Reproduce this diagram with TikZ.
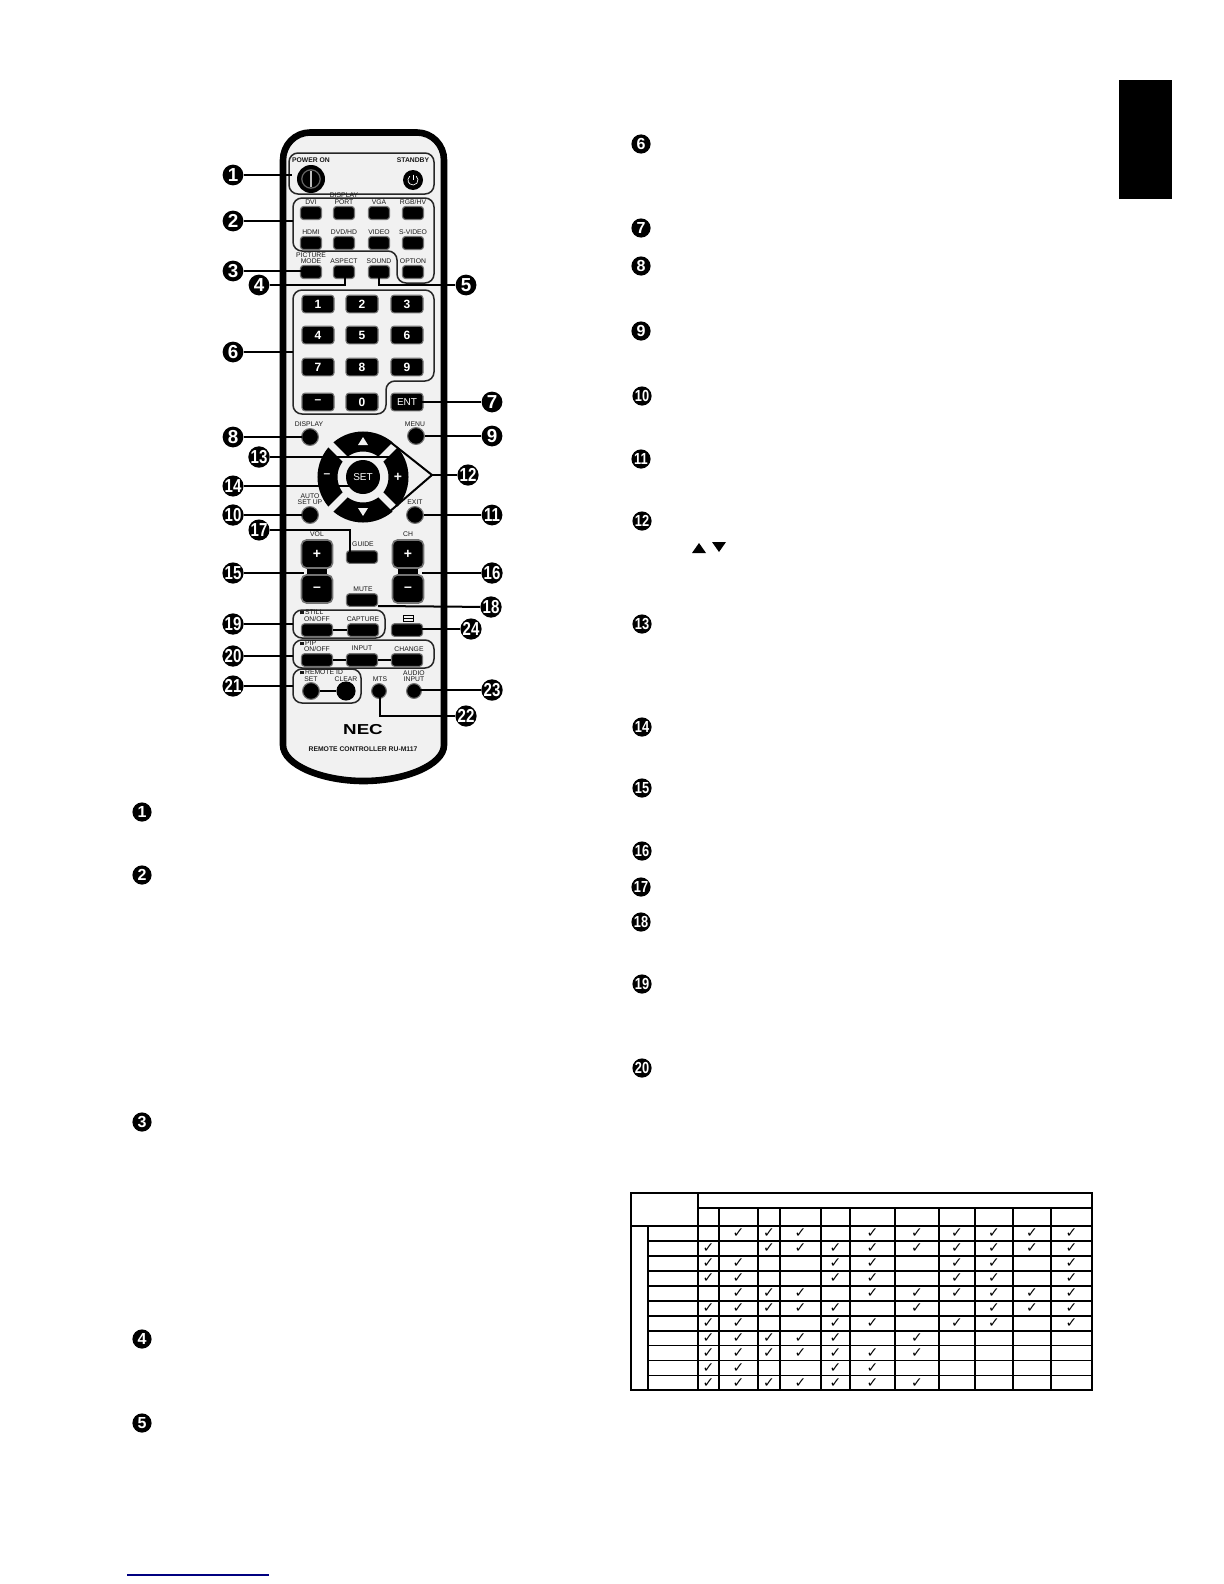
\documentclass[tikz,border=0pt]{standalone}
\usepackage{fontspec}
\setmainfont{Liberation Sans}
\newfontfamily\checkfont{DejaVu Sans}
\definecolor{bodygrey}{HTML}{F1F1F1}
\definecolor{linkblue}{HTML}{000080}
\tikzset{
  badge/.style={circle,fill=black,text=white,inner sep=0pt,minimum size=9.6pt,font=\fontsize{8}{8}\selectfont\bfseries},
  rbadge/.style={badge,minimum size=10.4pt,font=\fontsize{9.4}{9.4}\selectfont\bfseries},
  lead/.style={line width=1pt,draw=black},
  grp/.style={line width=.75pt,draw=black!85,rounded corners=4.5pt},
  wire/.style={line width=.6pt,draw=black},
  keyb/.style={rectangle,fill=black,draw=black!55,line width=.55pt,rounded corners=1.5pt,inner sep=0pt,text=white,minimum width=10.5pt,minimum height=6.5pt},
  numkey/.style={keyb,minimum width=16pt,minimum height=8.8pt,font=\fontsize{6}{6}\selectfont\bfseries},
  widekey/.style={keyb,minimum width=15.5pt,minimum height=6.3pt},
  tallkey/.style={keyb,minimum width=15.5pt,minimum height=14pt,rounded corners=2.5pt,line width=.8pt,font=\fontsize{7}{7}\selectfont\bfseries},
  rbtn/.style={circle,fill=black,draw=black!55,line width=.55pt,inner sep=0pt,minimum size=8.4pt},
  lab/.style={inner sep=0pt,text=black!90,font=\fontsize{3.4}{3.4}\selectfont},
  blab/.style={lab,font=\fontsize{3.4}{3.4}\selectfont\bfseries},
  tick/.style={inner sep=0pt,font=\fontsize{7}{7}\selectfont\checkfont},
  tbl/.style={line width=.55pt,draw=black}
}
\newcommand{\tw}[1]{\scalebox{.8}[1]{#1}}
\newcommand{\sqm}{\rule{1.8pt}{1.8pt}\,}
\begin{document}
\begin{tikzpicture}[x=.5pt,y=-.5pt]
\useasboundingbox (0,0) rectangle (1224,1584);
\fill[white] (0,0) rectangle (1224,1584);
% tab
\fill[black] (1119,80) rectangle (1172,199);
% blue rule
\draw[linkblue,line width=.6pt] (127,1575) -- (269,1575);
% remote body
\draw[line width=3.3pt,fill=bodygrey,draw=black] (283,745) -- (283,160) .. controls (283,145) and (295,132.5) .. (310,132.5) -- (417,132.5) .. controls (432,132.5) and (444,145) .. (444,160) -- (444,745) .. controls (444,765) and (405,781) .. (363.5,781) .. controls (322,781) and (283,765) .. (283,745) -- cycle;
% groups
\draw[grp] (289,153) rectangle (434,194);
\draw[grp] (293,198) -- (293,251) -- (397,251) -- (397,283) -- (434,283) -- (434,198) -- cycle;
\draw[grp] (293,290) -- (434,290) -- (434,381) -- (386,381) -- (386,414) -- (293,414) -- cycle;
\draw[grp] (293,610) rectangle (385,638);
\draw[grp] (293,640) rectangle (434,668);
\draw[grp] (293,669) rectangle (361,703);
% power
\node[blab] (lpower) at (311,160) {POWER ON};
\node[blab] (lstandby) at (413,160) {STANDBY};
\node[circle,fill=black,inner sep=0pt,minimum size=14pt] (kpower) at (311,179) {};
\draw[black!60,line width=.6pt] (kpower.center) circle[radius=4.6pt];
\draw[black!25,line width=.8pt] (311,171) -- (311,187);
\node[circle,fill=black,inner sep=0pt,minimum size=10pt] (kstandby) at (413,180) {};
\draw[white,line width=.35pt] (416.2,176.2) arc[start angle=50,end angle=-230,radius=2.5pt];
\draw[white,line width=.35pt] (413,174.5) -- (413,180);
% source keys
\node[lab] (l21a) at (344,195) {DISPLAY};
\node[lab] (l21) at (311,202) {DVI};
\node[lab] (l22) at (344,202) {PORT};
\node[lab] (l23) at (379,202) {VGA};
\node[lab] (l24) at (413,202) {RGB/HV};
\node[keyb] (k21) at (311,213) {};
\node[keyb] (k22) at (344,213) {};
\node[keyb] (k23) at (379,213) {};
\node[keyb] (k24) at (413,213) {};
\node[lab] (l31) at (311,232) {HDMI};
\node[lab] (l32) at (344,232) {DVD/HD};
\node[lab] (l33) at (379,232) {VIDEO};
\node[lab] (l34) at (413,232) {S-VIDEO};
\node[keyb] (k31) at (311,243) {};
\node[keyb] (k32) at (344,243) {};
\node[keyb] (k33) at (379,243) {};
\node[keyb] (k34) at (413,243) {};
\node[lab] (l41a) at (311,255) {PICTURE};
\node[lab] (l41) at (311,261) {MODE};
\node[lab] (l42) at (344,261) {ASPECT};
\node[lab] (l43) at (379,261) {SOUND};
\node[lab] (l44) at (413,261) {OPTION};
\node[keyb] (k41) at (311,272) {};
\node[keyb] (k42) at (344,272) {};
\node[keyb] (k43) at (379,272) {};
\node[keyb] (k44) at (413,272) {};
% numeric keys
\node[numkey] (n1) at (318,304) {1};
\node[numkey] (n2) at (362,304) {2};
\node[numkey] (n3) at (407,304) {3};
\node[numkey] (n4) at (318,335) {4};
\node[numkey] (n5) at (362,335) {5};
\node[numkey] (n6) at (407,335) {6};
\node[numkey] (n7) at (318,367) {7};
\node[numkey] (n8) at (362,367) {8};
\node[numkey] (n9) at (407,367) {9};
\node[numkey] (nm) at (318,402) {–};
\node[numkey] (n0) at (362,402) {0};
\node[numkey,font=\fontsize{5}{5}\selectfont] (nent) at (407,402) {ENT};
% round keys
\node[lab] (ldisp) at (309,424) {DISPLAY};
\node[rbtn] (kdisp) at (310,437) {};
\node[lab] (lmenu) at (415,424) {MENU};
\node[rbtn] (kmenu) at (416,436) {};
\node[lab,align=center,font=\fontsize{3.4}{3}\selectfont] (lauto) at (310,499) {AUTO\\SET UP};
\node[rbtn] (kauto) at (310,515) {};
\node[lab] (lexit) at (415,502) {EXIT};
\node[rbtn] (kexit) at (415,515) {};
% d-pad
\draw[black,line width=10pt] (363,477) circle[radius=17.75pt];
\draw[bodygrey,line width=3.4pt] (328,442) -- (398,512);
\draw[bodygrey,line width=3.4pt] (398,442) -- (328,512);
\node[circle,fill=black,text=white,inner sep=0pt,minimum size=17pt,font=\fontsize{5}{5}\selectfont] (kset) at (363,477) {SET};
\fill[bodygrey] (363,437) -- (368,445) -- (358,445) -- cycle;
\fill[bodygrey] (363,516) -- (368,508) -- (358,508) -- cycle;
\node[inner sep=0pt,text=bodygrey,font=\fontsize{6}{6}\selectfont\bfseries] (kminus) at (327,476) {–};
\node[inner sep=0pt,text=bodygrey,font=\fontsize{7}{7}\selectfont\bfseries] (kplus) at (398,477) {+};
% vol, ch
\node[lab] (lvol) at (317,534) {VOL};
\node[lab] (lch) at (408,534) {CH};
\fill[black] (307,566) rectangle (327,577);
\fill[black] (398,566) rectangle (418,577);
\node[tallkey] (volp) at (317,554) {+};
\node[tallkey] (volm) at (317,589) {–};
\node[tallkey] (chp) at (408,554) {+};
\node[tallkey] (chm) at (408,589) {–};
\node[lab] (lguide) at (363,544) {GUIDE};
\node[widekey] (kguide) at (362,557) {};
\node[lab] (lmute) at (363,589) {MUTE};
\node[widekey] (kmute) at (362,600) {};
% still
\node[lab,anchor=west] (lstill) at (300,612) {\sqm STILL};
\node[lab] (lon) at (317,619) {ON/OFF};
\node[lab] (lcap) at (363,619) {CAPTURE};
\node[widekey] (kon) at (317,630) {};
\node[widekey] (kcap) at (363,630) {};
\draw[wire] (kon) -- (kcap);
\draw[black,line width=.4pt] (403,615.5) rectangle (413,621);
\draw[black,line width=.4pt] (403,618) -- (413,618);
\node[widekey] (kbox) at (407,630) {};
% pip
\node[lab,anchor=west] (lpip) at (300,643) {\sqm PIP};
\node[lab] (lpon) at (317,649) {ON/OFF};
\node[lab] (linp) at (362,648) {INPUT};
\node[lab] (lchg) at (409,649) {CHANGE};
\node[widekey] (kpon) at (317,660) {};
\node[widekey] (kinp) at (362,660) {};
\node[widekey] (kchg) at (407,660) {};
\draw[wire] (kpon) -- (kinp);
\draw[wire] (kinp) -- (kchg);
% remote id
\node[lab,anchor=west] (lrid) at (300,672) {\sqm REMOTE ID};
\node[lab] (lset) at (311,679) {SET};
\node[lab] (lclr) at (346,679) {CLEAR};
\node[rbtn] (kset2) at (311,691) {};
\node[rbtn,draw=black,minimum size=9pt] (kclr) at (346,691) {};
\draw[wire] (kset2) -- (kclr);
\node[lab] (lmts) at (380,679) {MTS};
\node[rbtn,minimum size=7.4pt] (kmts) at (379,691) {};
\node[lab,align=center,font=\fontsize{3.4}{3}\selectfont] (laud) at (414,676) {AUDIO\\INPUT};
\node[rbtn,minimum size=7.4pt] (kaud) at (414,691) {};
% brand
\node[inner sep=0pt,font=\fontsize{7.2}{7.2}\selectfont\bfseries] (lnec) at (363,730) {\scalebox{1.3}[1]{NEC}};
\node[blab] (lmodel) at (363,749) {REMOTE CONTROLLER RU-M117};
% badges on remote
\node[rbadge] (b1) at (233,175) {1};
\node[rbadge] (b2) at (233,221) {2};
\node[rbadge] (b3) at (233,271) {3};
\node[rbadge] (b4) at (259,285) {4};
\node[rbadge] (b5) at (466,285) {5};
\node[rbadge] (b6) at (233,352) {6};
\node[rbadge] (b7) at (492,402) {7};
\node[rbadge] (b8) at (233,437) {8};
\node[rbadge] (b9) at (492,436) {9};
\node[rbadge] (b10) at (233,515) {\tw{10}};
\node[rbadge] (b11) at (492,515) {\tw{11}};
\node[rbadge] (b12) at (468,475) {\tw{12}};
\node[rbadge] (b13) at (259,457) {\tw{13}};
\node[rbadge] (b14) at (233,486) {\tw{14}};
\node[rbadge] (b15) at (233,573) {\tw{15}};
\node[rbadge] (b16) at (492,573) {\tw{16}};
\node[rbadge] (b17) at (259,530) {\tw{17}};
\node[rbadge] (b18) at (491,607) {\tw{18}};
\node[rbadge] (b19) at (233,624) {\tw{19}};
\node[rbadge] (b20) at (233,656) {\tw{20}};
\node[rbadge] (b21) at (233,686) {\tw{21}};
\node[rbadge] (b22) at (466,716) {\tw{22}};
\node[rbadge] (b23) at (492,690) {\tw{23}};
\node[rbadge] (b24) at (471,629) {\tw{24}};
% leader ends
\coordinate (e1) at (292,175);
\coordinate (e2) at (293,221);
\coordinate (e3) at (302,271);
\coordinate (e4) at (345,276);
\coordinate (e5) at (379,276);
\coordinate (e6) at (293,352);
\coordinate (e7) at (422,402);
\coordinate (e8) at (302,437);
\coordinate (e9) at (425,436);
\coordinate (e10) at (302,515);
\coordinate (e11) at (424,515);
\coordinate (e12) at (432,475);
\coordinate (e12a) at (389,441);
\coordinate (e12b) at (388,513);
\coordinate (e13) at (396,457);
\coordinate (e14) at (352,486);
\coordinate (e15) at (304,573);
\coordinate (e16) at (422,573);
\coordinate (e17) at (350,552);
\coordinate (e18) at (378,606);
\coordinate (e19) at (293,624);
\coordinate (e20) at (293,656);
\coordinate (e21) at (293,686);
\coordinate (e22) at (380,696);
\coordinate (e23) at (418,690);
\coordinate (e24) at (422,629);
\foreach \n in {1,2,3,6,7,8,9,10,11,13,14,15,16,18,19,20,21,23,24}{\draw[lead] (b\n) -- (e\n);}
\draw[lead] (b4) -| (e4);
\draw[lead] (b5) -| (e5);
\draw[lead] (b17) -| (e17);
\draw[lead] (b22) -| (e22);
\draw[lead] (b12) -- (e12);
\draw[lead] (e12a) -- (e12) -- (e12b);
% right column badges
\node[badge] (r6) at (641,144) {6};
\node[badge] (r7) at (641,228) {7};
\node[badge] (r8) at (641,266) {8};
\node[badge] (r9) at (641,331) {9};
\node[badge] (r10) at (642,396) {\tw{10}};
\node[badge] (r11) at (641,459) {\tw{11}};
\node[badge] (r12) at (642,521) {\tw{12}};
\node[badge] (r13) at (642,624) {\tw{13}};
\node[badge] (r14) at (642,727) {\tw{14}};
\node[badge] (r15) at (642,788) {\tw{15}};
\node[badge] (r16) at (642,851) {\tw{16}};
\node[badge] (r17) at (641,887) {\tw{17}};
\node[badge] (r18) at (641,922) {\tw{18}};
\node[badge] (r19) at (642,984) {\tw{19}};
\node[badge] (r20) at (642,1068) {\tw{20}};
% left column badges
\node[badge] (t1) at (142,812) {1};
\node[badge] (t2) at (142,875) {2};
\node[badge] (t3) at (142,1122) {3};
\node[badge] (t4) at (142,1339) {4};
\node[badge] (t5) at (142,1423) {5};
% triangles in text
\fill[black] (692,553) -- (706,553) -- (699,543) -- cycle;
\fill[black] (712,542) -- (726,542) -- (719,552) -- cycle;
% table
\draw[tbl] (631,1193) rectangle (1092,1390);
\draw[tbl] (698,1208) -- (1092,1208);
\draw[tbl] (631,1226) -- (1092,1226);
\draw[tbl] (698,1193) -- (698,1390);
\draw[tbl] (648,1226) -- (648,1390);
\foreach \yy in {1241,1256,1271,1286,1301,1316,1331,1345.5,1360.5,1375.5}{\draw[tbl] (648,\yy) -- (1092,\yy);}
\foreach \xx in {719,758,780,821,850,895,939,975,1013,1051}{\draw[tbl] (\xx,1208) -- (\xx,1390);}
\def\colx{{708.5,738.5,769,800.5,835.5,872.5,917,957,994,1032,1071.5}}
\foreach \r/\cols in {1/{2,3,4,6,7,8,9,10,11},2/{1,3,4,5,6,7,8,9,10,11},3/{1,2,5,6,8,9,11},4/{1,2,5,6,8,9,11},5/{2,3,4,6,7,8,9,10,11},6/{1,2,3,4,5,7,9,10,11},7/{1,2,5,6,8,9,11},8/{1,2,3,4,5,7},9/{1,2,3,4,5,6,7},10/{1,2,5,6},11/{1,2,3,4,5,6,7}}{
  \foreach \c in \cols {
    \pgfmathsetmacro\xc{\colx[\c-1]}
    \pgfmathsetmacro\yc{1233.5+14.95*(\r-1)}
    \node[tick] (c\r-\c) at (\xc,\yc) {✓};
  }
}
\end{tikzpicture}
\end{document}
